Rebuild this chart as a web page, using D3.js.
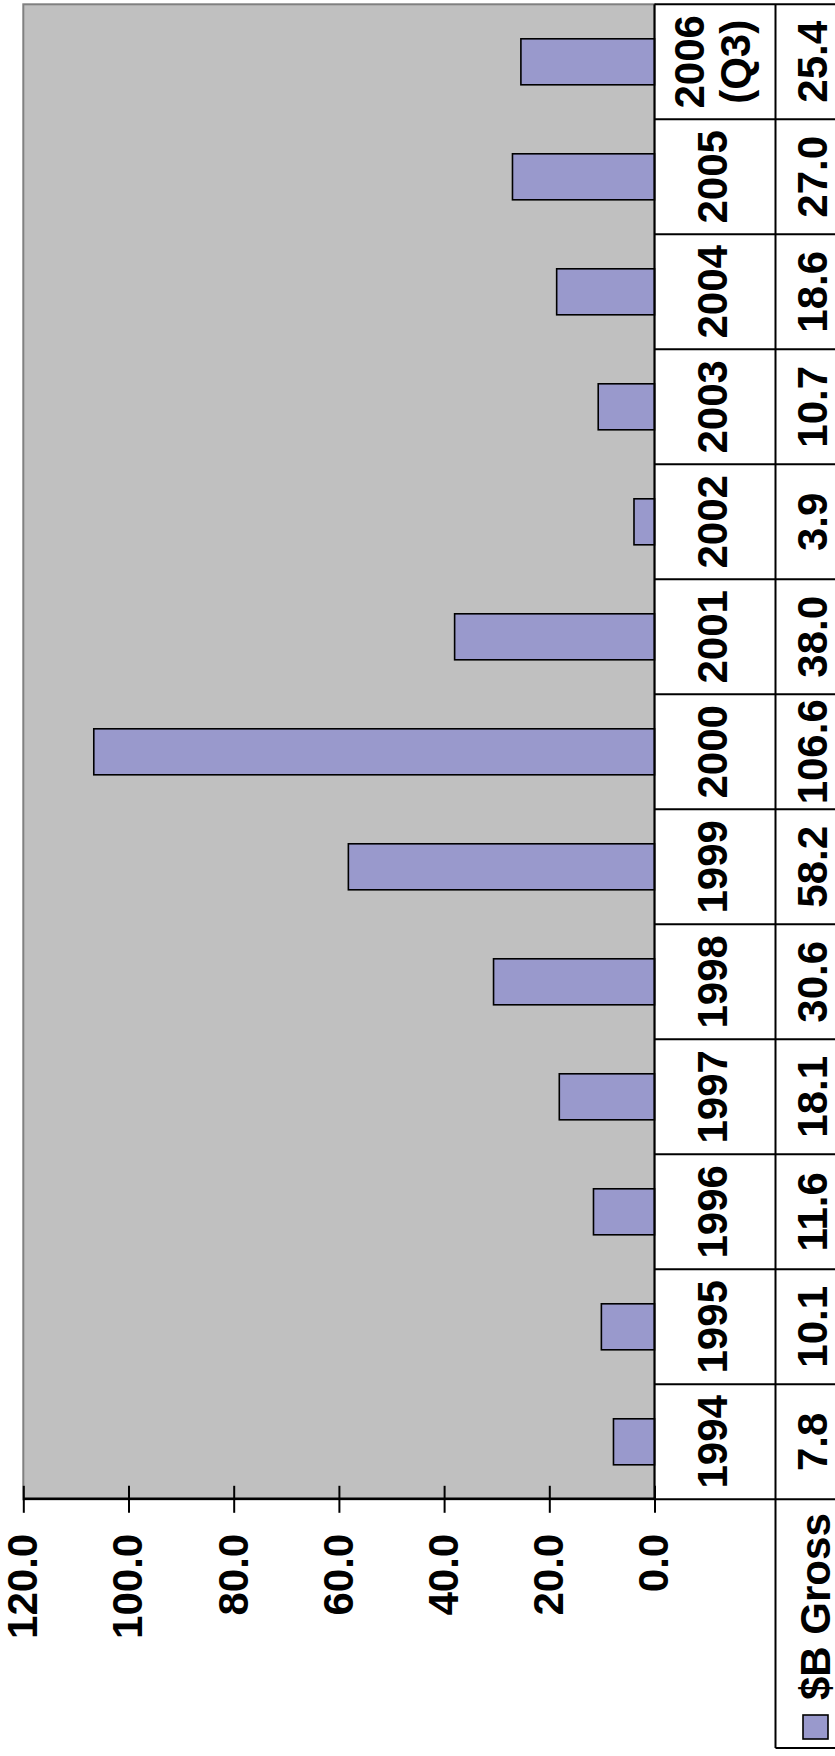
<!DOCTYPE html>
<html><head><meta charset="utf-8">
<script src="https://cdn.jsdelivr.net/npm/d3@7"></script>
<style>
html,body{margin:0;padding:0;background:#fff;}
svg{display:block;}
text{font-family:"Liberation Sans",Arial,sans-serif;font-weight:bold;}
</style>
</head><body>
<svg id="c" width="835" height="1756"></svg>
<script>
const categories = ["1994","1995","1996","1997","1998","1999","2000","2001","2002","2003","2004","2005","2006 (Q3)"];
const values = [7.8, 10.1, 11.6, 18.1, 30.6, 58.2, 106.6, 38.0, 3.9, 10.7, 18.6, 27.0, 25.4];
const seriesName = "$B Gross";
const tickValues = [0, 20, 40, 60, 80, 100, 120];

const W = 835, H = 1756;
const svg = d3.select("#c");
// chart is drawn unrotated, then turned 90deg counter-clockwise
const g = svg.append("g").attr("transform", `translate(0,${H}) rotate(-90)`);

const plotX0 = 256.7, plotX1 = 1751.7, plotY0 = 23.3, plotY1 = 654.5;
const rowDiv = 775.5, tableRight = 880, legendX0 = 8;
const fs = 42;
const fmt = d3.format(".1f");

const xCell = d3.scaleBand().domain(categories).range([plotX0, plotX1]).padding(0);
const x = d3.scaleBand().domain(categories).range([plotX0, plotX1]).paddingInner(0.6).paddingOuter(0.3);
const y = d3.scaleLinear().domain([0, 120]).range([plotY1, plotY0]);

// plot area
g.append("rect")
  .attr("x", plotX0).attr("y", plotY0)
  .attr("width", plotX1 - plotX0).attr("height", plotY1 - plotY0)
  .attr("fill", "#C0C0C0").attr("stroke", "#808080").attr("stroke-width", 2);

// bars
g.selectAll("rect.bar").data(categories).join("rect")
  .attr("class", "bar")
  .attr("x", d => x(d))
  .attr("y", (d, i) => y(values[i]))
  .attr("width", x.bandwidth())
  .attr("height", (d, i) => y(0) - y(values[i]))
  .attr("fill", "#9999CC").attr("stroke", "#000").attr("stroke-width", 1.6);

// data table lines
const lines = g.append("g").attr("stroke", "#000").attr("stroke-width", 2).attr("fill", "none");
lines.append("line").attr("x1", plotX0).attr("x2", plotX1).attr("y1", plotY1).attr("y2", plotY1);
lines.append("line").attr("x1", legendX0).attr("x2", plotX1).attr("y1", rowDiv).attr("y2", rowDiv);
lines.append("line").attr("x1", plotX1).attr("x2", plotX1).attr("y1", plotY1).attr("y2", tableRight);
lines.append("line").attr("x1", legendX0).attr("x2", legendX0).attr("y1", rowDiv).attr("y2", tableRight);
lines.append("line").attr("x1", plotX0).attr("x2", plotX0).attr("y1", plotY1).attr("y2", tableRight);
lines.selectAll("line.cell").data(categories.slice(1)).join("line")
  .attr("class", "cell")
  .attr("x1", d => xCell(d)).attr("x2", d => xCell(d))
  .attr("y1", plotY1).attr("y2", tableRight);

// category labels
const catCenter = (plotY1 + rowDiv) / 2;
const lh = 46;
const catText = g.append("g").attr("font-size", fs).attr("text-anchor", "middle").attr("fill", "#000");
categories.forEach(c => {
  const parts = c.split(" ");
  const t = catText.append("text").attr("x", xCell(c) + xCell.bandwidth() / 2);
  parts.forEach((p, j) => {
    const cy = catCenter + (j - (parts.length - 1) / 2) * lh - 3;
    t.append("tspan").attr("x", xCell(c) + xCell.bandwidth() / 2).attr("y", cy).attr("dy", "0.355em").text(p);
  });
});

// value labels
g.append("g").attr("font-size", fs).attr("text-anchor", "middle").attr("fill", "#000")
  .selectAll("text").data(categories).join("text")
  .attr("x", d => xCell(d) + xCell.bandwidth() / 2)
  .attr("y", 812).attr("dy", "0.355em")
  .text((d, i) => fmt(values[i]));

// legend
g.append("rect").attr("x", 17).attr("y", 803).attr("width", 24).attr("height", 25)
  .attr("fill", "#9999CC").attr("stroke", "#000").attr("stroke-width", 1.6);
g.append("text").attr("x", 56).attr("y", 830).attr("font-size", fs).attr("fill", "#000").text(seriesName);

// value axis
const ax = g.append("g").attr("transform", `translate(${plotX0},0)`)
  .call(d3.axisLeft(y).tickValues(tickValues).tickFormat(fmt).tickSizeInner(13.5).tickSizeOuter(0).tickPadding(21));
ax.attr("font-size", null).attr("font-family", null);
ax.select(".domain").attr("stroke", "#000").attr("stroke-width", 2.5);
ax.selectAll(".tick line").attr("x1", 13.5).attr("stroke", "#000").attr("stroke-width", 2);
ax.selectAll(".tick text").attr("font-size", fs).attr("fill", "#000");
</script>
</body></html>
